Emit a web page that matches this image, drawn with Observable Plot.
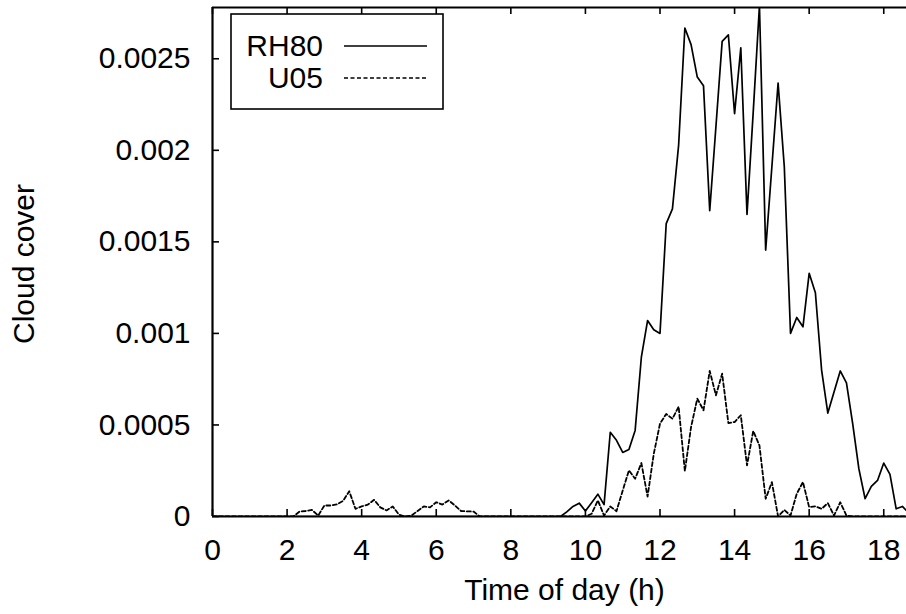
<!DOCTYPE html>
<html>
<head>
<meta charset="utf-8">
<script src="https://cdn.jsdelivr.net/npm/d3@7"></script>
<script src="https://cdn.jsdelivr.net/npm/@observablehq/plot@0.6"></script>
<style>
  html, body { margin: 0; padding: 0; background: white; }
</style>
</head>
<body>
<div id="chart"></div>
<script>
// Time of day sampled every 10 minutes (hours)
const time = d3.range(113).map(i => i / 6);

const rh80 = [
  0,0,0,0,0,0,0,0,0,0, 0,0,0,0,0,0,0,0,0,0,
  0,0,0,0,0,0,0,0,0,0, 0,0,0,0,0,0,0,0,0,0,
  0,0,0,0,0,0,0,0,0,0, 0,0,0,0,0,0,0,
  2.5e-5, 5.5e-5, 7.3e-5, 3.0e-5, 7.5e-5, 1.22e-4, 6.5e-5,
  4.6e-4, 4.16e-4, 3.5e-4, 3.66e-4, 4.7e-4, 8.7e-4, 1.07e-3, 1.02e-3, 1.0e-3,
  1.6e-3, 1.68e-3, 2.03e-3, 2.668e-3, 2.577e-3, 2.40e-3, 2.352e-3, 1.67e-3,
  2.13e-3, 2.595e-3, 2.63e-3, 2.20e-3, 2.56e-3, 1.65e-3, 2.21e-3, 2.79e-3,
  1.455e-3, 1.91e-3, 2.367e-3, 1.91e-3, 1.0e-3, 1.087e-3, 1.036e-3, 1.328e-3,
  1.222e-3, 8.0e-4, 5.65e-4, 6.8e-4, 7.95e-4, 7.3e-4, 5.07e-4, 2.6e-4,
  9.7e-5, 1.64e-4, 1.97e-4, 2.92e-4, 2.3e-4, 4.2e-5, 5.5e-5, 2.0e-5
];

const u05 = [
  0,0,0,0,0,0,0,0,0,0, 0,0,0,0,
  2.7e-5, 3.0e-5, 3.6e-5, 5e-6, 6.0e-5, 6.0e-5, 6.6e-5, 8.5e-5, 1.38e-4, 4.2e-5,
  5.5e-5, 6.5e-5, 9.1e-5, 5.0e-5, 3.3e-5, 5.5e-5, 1.0e-5, 0, 5e-6, 3.0e-5,
  5.5e-5, 5.0e-5, 7.8e-5, 6.5e-5, 8.8e-5, 6.0e-5, 3.0e-5, 2.8e-5, 2.7e-5,
  0,0,0,0,0,0,0,0,0, 0,0,0,0,0,0,0,0,0,
  1.5e-5, 8.8e-5, 5e-6, 5.5e-5, 2.9e-5, 1.42e-4, 2.52e-4, 2.06e-4, 2.92e-4,
  1.09e-4, 3.43e-4, 5.07e-4, 5.6e-4, 5.34e-4, 6.0e-4, 2.48e-4, 4.89e-4,
  6.44e-4, 5.8e-4, 7.95e-4, 6.62e-4, 7.8e-4, 5.1e-4, 5.16e-4, 5.53e-4,
  2.79e-4, 4.67e-4, 3.88e-4, 9.7e-5, 1.88e-4, 0, 3.6e-5, 5e-6, 1.24e-4,
  1.88e-4, 5.1e-5, 5.5e-5, 4.2e-5, 7.3e-5, 5e-6, 7.8e-5, 5e-6,
  0,0,0,0,0,0,0,0,0,0
];

const xTicks = [0, 2, 4, 6, 8, 10, 12, 14, 16, 18];
const yTicks = [0, 0.0005, 0.001, 0.0015, 0.002, 0.0025];
const yTickLabels = ["0", "0.0005", "0.001", "0.0015", "0.002", "0.0025"];
const seriesNames = ["RH80", "U05"];

const yMax = 0.00278;
const rhRows = time.map((t, i) => ({t, v: rh80[i]}));
const uRows = time.map((t, i) => ({t, v: u05[i]}));

const font = "'Liberation Sans', Arial, Helvetica, sans-serif";

const chart = Plot.plot({
  width: 906,
  height: 614,
  marginLeft: 212,
  marginRight: 0,
  marginTop: 7,
  marginBottom: 98,
  x: {domain: [0, 18.61]},
  y: {domain: [0, yMax]},
  style: {fontFamily: font, fontSize: "30px", color: "black", background: "white", overflow: "visible"},
  marks: [
    Plot.lineY(rhRows, {x: "t", y: "v", stroke: "black", strokeWidth: 1.7, clip: true}),
    Plot.lineY(uRows, {x: "t", y: "v", stroke: "black", strokeWidth: 1.8, strokeDasharray: "4,2.5", clip: true}),
    Plot.tickX(xTicks, {x: d => d, insetTop: 502, stroke: "black", strokeWidth: 1.6}),
    Plot.tickX(xTicks, {x: d => d, insetBottom: 502, stroke: "black", strokeWidth: 1.6}),
    Plot.tickY(yTicks, {y: d => d, insetRight: 687, stroke: "black", strokeWidth: 1.6}),
    Plot.axisX(xTicks, {anchor: "bottom", tickSize: 0, tickPadding: 22, tickFormat: d => String(d), fontSize: 30, label: null}),
    Plot.axisY(yTicks, {anchor: "left", tickSize: 0, tickPadding: 22, tickFormat: d => yTickLabels[yTicks.indexOf(d)], fontSize: 30, label: null}),
    Plot.ruleX([0], {stroke: "black", strokeWidth: 2.2}),
    Plot.ruleY([0, yMax], {stroke: "black", strokeWidth: 2.2}),
    Plot.text(["Time of day (h)"], {frameAnchor: "bottom", lineAnchor: "middle", textAnchor: "middle", dy: 74, dx: 5, fontSize: 30, fill: "black"}),
    Plot.text(["Cloud cover"], {frameAnchor: "left", lineAnchor: "middle", textAnchor: "middle", rotate: -90, dx: -188, dy: 2, fontSize: 30, fill: "black"})
  ]
});

// Legend box (gnuplot style, inside top-left)
const svg = d3.select(chart);
const lg = svg.append("g").attr("font-family", font).attr("font-size", 30);
lg.append("rect").attr("x", 231).attr("y", 14).attr("width", 212).attr("height", 95)
  .attr("fill", "white").attr("stroke", "black").attr("stroke-width", 1.6);
const legendRows = [
  {name: seriesNames[0], y: 46, dash: null},
  {name: seriesNames[1], y: 78, dash: "4,2.5"}
];
legendRows.forEach(r => {
  lg.append("text").attr("x", 323).attr("y", r.y).attr("dy", "0.34em")
    .attr("text-anchor", "end").attr("fill", "black").text(r.name);
  const ln = lg.append("line").attr("x1", 344).attr("x2", 427).attr("y1", r.y).attr("y2", r.y)
    .attr("stroke", "black").attr("stroke-width", 1.7);
  if (r.dash) ln.attr("stroke-dasharray", r.dash);
});

document.getElementById("chart").appendChild(chart);
</script>
</body>
</html>
